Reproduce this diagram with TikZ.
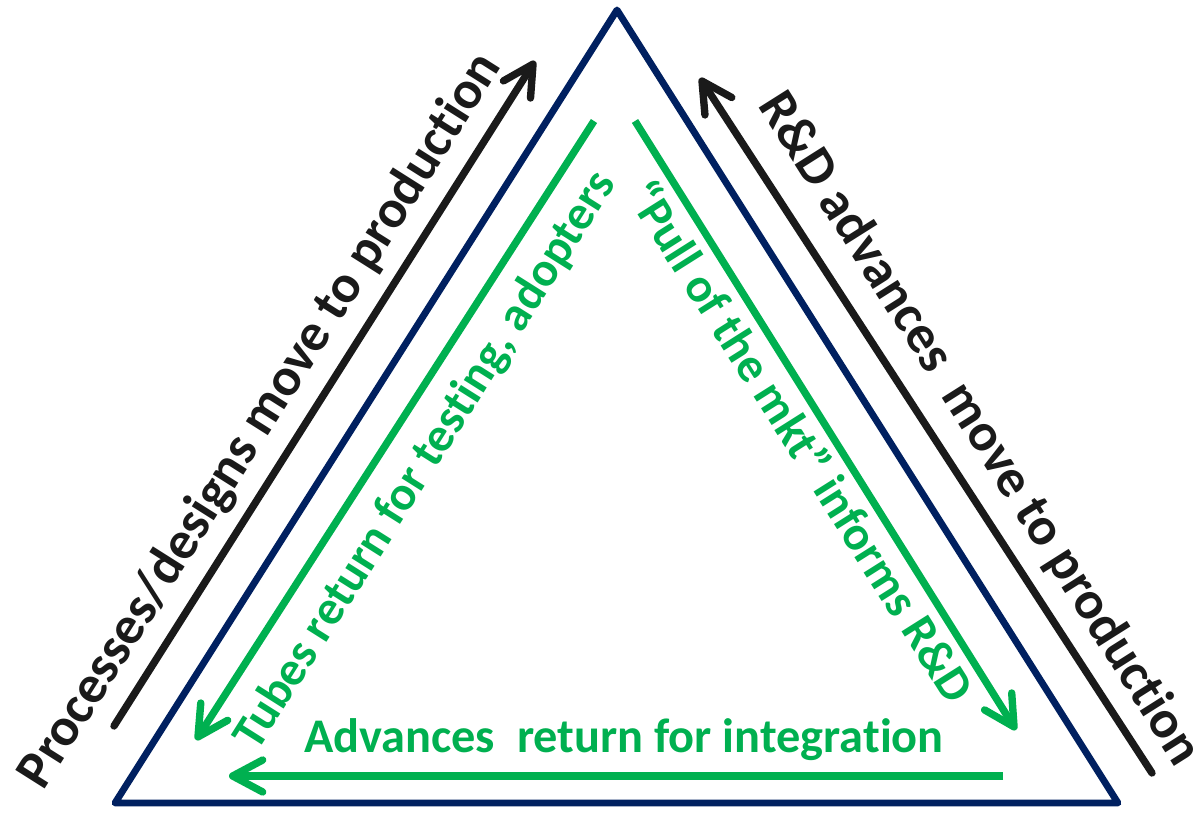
\documentclass[tikz,border=0pt]{standalone}
\usepackage{fontspec}
\setmainfont{Carlito}[Ligatures=NoCommon]
\usetikzlibrary{arrows.meta}
\definecolor{navy}{HTML}{002060}
\definecolor{leaf}{HTML}{00B050}
\definecolor{ink}{HTML}{1A1A1A}
\tikzset{
x=0.02cm, y=-0.02cm, % one unit per pixel, y going down
side/.style={draw=navy, line width=3.9pt, line join=round}, % the triangle
push/.style={draw=ink, line width=4.2pt, line cap=round, -{Straight Barb[length=6mm, width=6.4mm, line cap=round, line join=round]}}, % outer arrows
pull/.style={draw=leaf, line width=4.2pt, -{Straight Barb[length=6mm, width=6.4mm, line cap=round, line join=round]}}, % inner arrows
outer/.style={text=ink, font=\bfseries\fontsize{30.5}{32}\selectfont},
inner/.style={text=leaf, font=\bfseries\fontsize{27.5}{29}\selectfont},
}
\begin{document}
\begin{tikzpicture}
    \useasboundingbox (0,0) rectangle (1201,813);
    % corners of the triangle
    \coordinate (top) at (617,10);
    \coordinate (bl) at (115,803);
    \coordinate (br) at (1118,803);
    \draw[side] (top) -- (br) -- (bl) -- cycle;

    % outer arrows
    \coordinate (p0) at (114,726);
    \coordinate (p1) at (535,61);
    \coordinate (r0) at (1152,773);
    \coordinate (r1) at (700,78);
    \draw[push] (p0) -- (p1);
    \draw[push] (r0) -- (r1);

    % inner arrows
    \coordinate (t0) at (594,121);
    \coordinate (t1) at (196,740);
    \coordinate (m0) at (635,121);
    \coordinate (m1) at (1016,730);
    \coordinate (a0) at (1003,776);
    \coordinate (a1) at (229,776);
    \draw[pull] (t0) -- (t1);
    \draw[pull] (m0) -- (m1);
    \draw[pull] (a0) -- (a1);

    % labels
    \node[outer, rotate=57.7] (process) at (261,421) {Processes/designs move to production};
    \node[outer, rotate=-57.7] (advance) at (979,429) {R\&D advances\ \ move to production};
    \node[inner, rotate=57.7] (tubes) at (426,461) {Tubes return for testing, adopters};
    \node[inner, rotate=-57.7] (market) at (802,441) {“Pull of the mkt” informs R\&D};
    \node[inner] (integrate) at (624,740) {Advances\ \ return for integration};
\end{tikzpicture}
\end{document}
